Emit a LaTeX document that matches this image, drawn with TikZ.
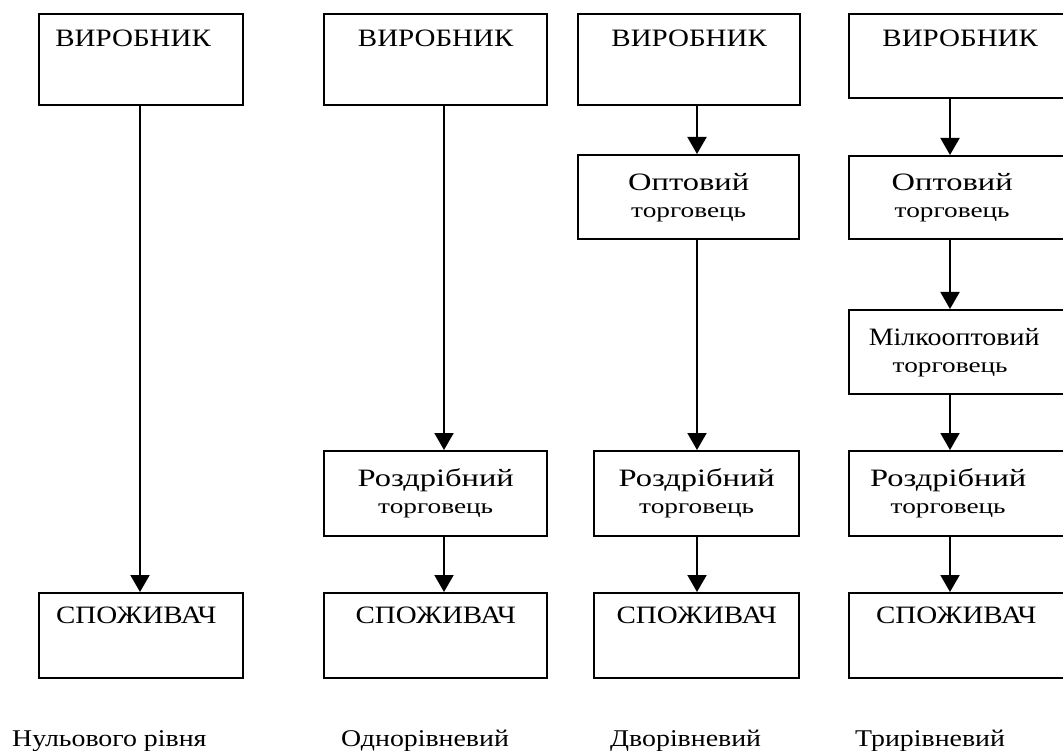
\documentclass[tikz,border=0pt]{standalone}
\usepackage{fontspec}
\setmainfont{Liberation Serif}
\newfontfamily\wideA{Liberation Serif}[FakeStretch=1.16]
\newfontfamily\wideB{Liberation Serif}[FakeStretch=1.3]
\newfontfamily\wideC{Liberation Serif}[FakeStretch=1.12]
\usetikzlibrary{arrows.meta}
% two-line box text; optional #1 = trailing space that shifts the text left
\newcommand{\two}[3][0pt]{{\fontsize{25}{26}\selectfont #2\hspace*{#1}}\\[1pt]{\fontsize{21}{26}\selectfont #3\hspace*{#1}}}
\begin{document}
\begin{tikzpicture}[x=1pt,y=-1pt,
  box/.style={draw=black, line width=2.4pt, rectangle, inner sep=0pt, anchor=north west, font=\wideA\fontsize{25}{26}\selectfont},
  twobox/.style={box, align=center, font=\wideB\fontsize{25}{26}\selectfont},
  conn/.style={line width=2pt, -{Triangle[width=19pt,length=17pt]}},
  lbl/.style={anchor=base west, inner sep=0pt, font=\wideA\fontsize{24}{26}\selectfont}
]
\clip (0,0) rectangle (1063,751);
\fill[white] (0,0) rectangle (1063,751);

% column 1
\node[box, minimum width=204, minimum height=91, text height=32pt, text depth=59pt] (p1) at (38,13) {ВИРОБНИК\hspace*{16pt}};
\node[box, minimum width=204, minimum height=85, text height=30pt, text depth=55pt] (c1) at (38,592) {СПОЖИВАЧ\hspace*{10pt}};
\coordinate (x1) at (140,0);
\draw[conn] (p1.south -| x1) -- (c1.north -| x1);

% column 2
\node[box, minimum width=223, minimum height=91, text height=32pt, text depth=59pt] (p2) at (323,13) {ВИРОБНИК};
\node[twobox, minimum width=223, minimum height=85] (r2) at (323,450) {\two{Роздрібний}{торговець}};
\node[box, minimum width=223, minimum height=85, text height=30pt, text depth=55pt] (c2) at (323,592) {СПОЖИВАЧ};
\coordinate (x2) at (444,0);
\draw[conn] (p2.south -| x2) -- (r2.north -| x2);
\draw[conn] (r2.south -| x2) -- (c2.north -| x2);

% column 3
\node[box, minimum width=222, minimum height=91, text height=32pt, text depth=59pt] (p3) at (577,13) {ВИРОБНИК};
\node[twobox, minimum width=221, minimum height=84] (o3) at (577,154) {\two{Оптовий}{торговець}};
\node[twobox, minimum width=205, minimum height=85] (r3) at (593,450) {\two{Роздрібний}{торговець}};
\node[box, minimum width=205, minimum height=85, text height=30pt, text depth=55pt] (c3) at (593,592) {СПОЖИВАЧ};
\coordinate (x3) at (697,0);
\draw[conn] (p3.south -| x3) -- (o3.north -| x3);
\draw[conn] (o3.south -| x3) -- (r3.north -| x3);
\draw[conn] (r3.south -| x3) -- (c3.north -| x3);

% column 4
\node[box, minimum width=222, minimum height=84, text height=32pt, text depth=52pt] (p4) at (848,13) {ВИРОБНИК};
\node[twobox, minimum width=222, minimum height=83] (o4) at (848,155) {\two[16pt]{Оптовий}{торговець}};
\node[twobox, minimum width=222, minimum height=84] (m4) at (848,309) {{\wideC\fontsize{25}{26}\selectfont Мілкооптовий\hspace*{12pt}}\\[1pt]{\fontsize{21}{26}\selectfont торговець\hspace*{20pt}}};
\node[twobox, minimum width=222, minimum height=85] (r4) at (848,450) {\two[24pt]{Роздрібний}{торговець}};
\node[box, minimum width=222, minimum height=85, text height=30pt, text depth=55pt] (c4) at (848,592) {СПОЖИВАЧ\hspace*{8pt}};
\coordinate (x4) at (950,0);
\draw[conn] (p4.south -| x4) -- (o4.north -| x4);
\draw[conn] (o4.south -| x4) -- (m4.north -| x4);
\draw[conn] (m4.south -| x4) -- (r4.north -| x4);
\draw[conn] (r4.south -| x4) -- (c4.north -| x4);

% level labels
\node[lbl] (l1) at (12,746) {Нульового рівня};
\node[lbl] (l2) at (341,746) {Однорівневий};
\node[lbl] (l3) at (610,746) {Дворівневий};
\node[lbl] (l4) at (855,746) {Трирівневий};
\end{tikzpicture}
\end{document}
